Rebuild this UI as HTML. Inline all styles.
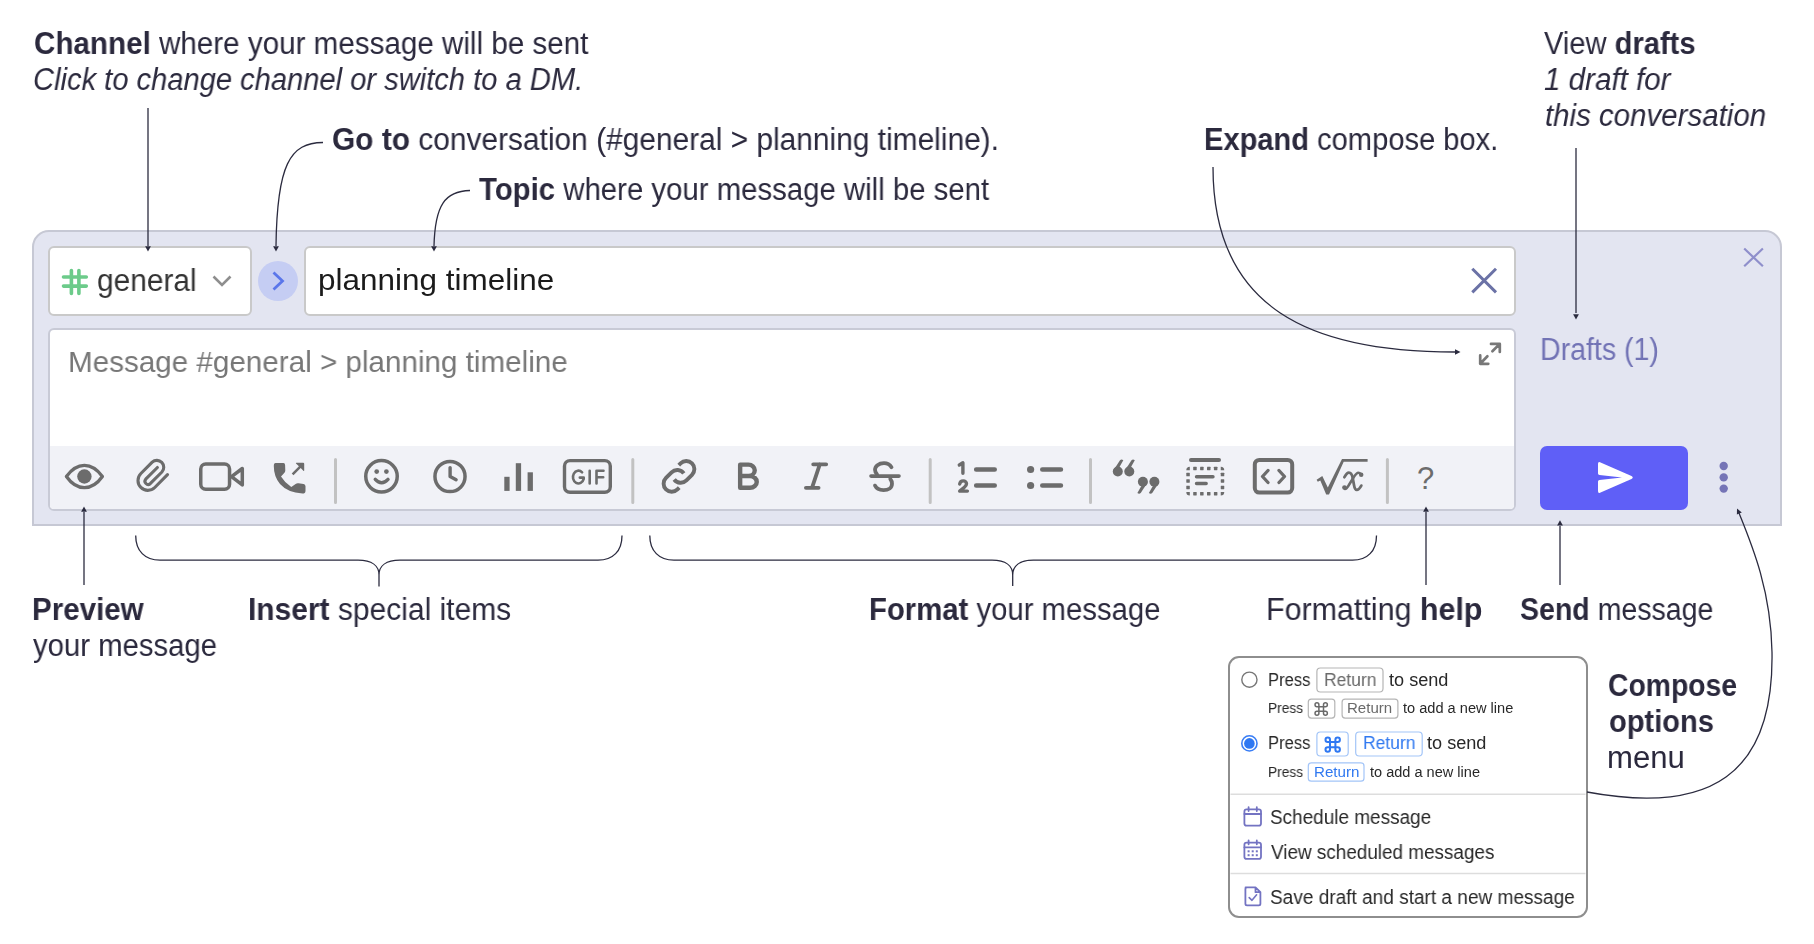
<!DOCTYPE html>
<html><head><meta charset="utf-8"><title>Compose box</title>
<style>
html,body{margin:0;padding:0;background:#fff;}
body{width:1814px;height:944px;position:relative;overflow:hidden;font-family:"Liberation Sans",sans-serif;}
.t{position:absolute;white-space:nowrap;line-height:1;transform-origin:0 0;will-change:transform;}
.t b{font-weight:bold;}
.box{position:absolute;box-sizing:border-box;}
.ov{position:absolute;left:0;top:0;}
</style></head><body>
<div class="box" style="left:32px;top:230px;width:1750px;height:296px;background:#e3e5f1;border:2px solid #c6c8d4;border-radius:17px 17px 0 0;"></div>
<div class="box" style="left:48px;top:246px;width:204px;height:70px;background:#fff;border:2px solid #c9c9c9;border-radius:6px;"></div>
<div class="box" style="left:304px;top:246px;width:1212px;height:70px;background:#fff;border:2px solid #c9c9c9;border-radius:6px;"></div>
<div class="box" style="left:48px;top:328px;width:1468px;height:183px;background:#fff;border:2px solid #c8cad6;border-radius:6px;overflow:hidden;">
  <div style="position:absolute;left:0;right:0;top:116px;bottom:0;background:#f1f2f7;"></div>
</div>
<div class="box" style="left:1228px;top:656px;width:360px;height:262px;background:#fff;border:2px solid #8e8e8e;border-radius:11px;"></div>

<svg class="ov" width="1814" height="944" viewBox="0 0 1814 944">
<g fill="none" stroke="#2b2b3f" stroke-width="1.3">
 <path d="M148 108 V246"/>
 <path d="M323 142.5 C290 142.5 277 165 276 246"/>
 <path d="M470 190.5 C445 191 435 205 434 246"/>
 <path d="M1213 167 C1213 309.6 1311.7 352 1455 352"/>
 <path d="M1576 148 V313"/>
 <path d="M84 585 V512"/>
 <path d="M1426 585 V512"/>
 <path d="M1560 585 V526"/>
 <path d="M1587 792 C1710 815 1774 775 1772 652 C1771 590.5 1752 545 1739 513"/>
 <path d="M135.7 535.4 C135.7 551 145 560.2 160 560.2 H358 C372 560.2 379 566 379 575 V586.4 M379 575 C379 566 386 560.2 400 560.2 H598 C613 560.2 622 551 622 535.4"/>
 <path d="M649.8 535.4 C649.8 551 659 560.2 674 560.2 H992 C1006 560.2 1012.7 566 1012.7 575 V586 M1012.7 575 C1012.7 566 1019.5 560.2 1033.5 560.2 H1352.5 C1367.5 560.2 1376.5 551 1376.5 535.4"/>
</g>
<g fill="#2b2b3f">
 <path d="M145.1 246.3 L150.9 246.3 L148 251.5 Z" fill="#2b2b3f"/>
 <path d="M273.1 246.3 L278.9 246.3 L276 251.5 Z" fill="#2b2b3f"/>
 <path d="M431.1 246.3 L436.9 246.3 L434 251.5 Z" fill="#2b2b3f"/>
 <path d="M1573.1 314.3 L1578.9 314.3 L1576 319.5 Z" fill="#2b2b3f"/>
 <path d="M81.1 511.7 L86.9 511.7 L84 506.5 Z" fill="#2b2b3f"/>
 <path d="M1423.1 511.7 L1428.9 511.7 L1426 506.5 Z" fill="#2b2b3f"/>
 <path d="M1557.1 525.5 L1562.9 525.5 L1560 520.3 Z" fill="#2b2b3f"/>
 <path d="M1460.5 352 L1455 349.2 L1455 354.8 Z"/>
 <path d="M1737 508.5 L1736.9 514.5 L1741.8 512.6 Z"/>
</g>
</svg>

<svg class="ov" width="1814" height="944" viewBox="0 0 1814 944">
 <!-- channel # -->
 <g stroke="#6ccb8a" stroke-width="3.6" stroke-linecap="round" fill="none">
  <path d="M71.4 270.6 V293.4 M78.9 270.6 V293.4 M63.5 277 H86.3 M63.5 286.1 H86.3"/>
 </g>
 <path d="M213.5 276.5 L222 285 L230.5 276.5" fill="none" stroke="#8e8e8e" stroke-width="2.6"/>
 <circle cx="278" cy="281" r="20" fill="#c5cdf3"/>
 <path d="M273.5 272.5 L282.5 281 L273.5 289.5" fill="none" stroke="#5a76ea" stroke-width="2.8"/>
 <!-- topic X -->
 <path d="M1472.3 268.8 L1496 292.4 M1496 268.8 L1472.3 292.4" stroke="#6b72a6" stroke-width="3" fill="none"/>
 <!-- close X -->
 <path d="M1744.2 248.5 L1762.9 266.3 M1762.9 248.5 L1744.2 266.3" stroke="#8f8fcb" stroke-width="2.2" fill="none"/>
 <!-- expand -->
 <g stroke="#787878" stroke-width="2.7" fill="none" stroke-linecap="round" stroke-linejoin="round">
  <path d="M1491 343.9 H1499.8 V352 M1499.8 343.9 L1492.4 351.3"/>
  <path d="M1480.2 355.4 V363.8 H1488.3 M1480.2 363.8 L1487.4 356.3"/>
 </g>
 <!-- toolbar icons -->
 <g fill="none" stroke="#6c6c6c" stroke-width="3.5" stroke-linecap="round" stroke-linejoin="round">
  <path d="M66.4 476.5 C71.5 469.3 77.6 465.3 84.4 465.3 C91.2 465.3 97.3 469.3 102.4 476.5 C97.3 483.7 91.2 487.7 84.4 487.7 C77.6 487.7 71.5 483.7 66.4 476.5 Z" stroke-width="3.3"/>
  <path d="M157.4 467.5 L145.7 479.2 A3.2 3.2 0 0 0 150.2 483.7 L161.9 472 A6.9 6.9 0 0 0 152.2 462.2 L140.9 473.5 A9.85 9.85 0 0 0 154.8 487.5 L167.5 474.7" stroke-width="3.1"/>
  <rect x="200.75" y="463.95" width="28.8" height="25.2" rx="5"/>
  <path d="M231.5 476.7 L242.3 468.5 V484.9 Z"/>
  <circle cx="381.5" cy="476.3" r="15.75"/>
  <path d="M375.3 479.4 Q381.6 486.2 388 479.4" stroke-width="3.5"/>
  <circle cx="450" cy="476.5" r="15.05"/>
  <path d="M450.1 467.6 V476.6 L456.1 479.8" stroke-width="3.4"/>
  <rect x="564.5" y="460.6" width="45.8" height="31.7" rx="5.5" stroke-width="3.4"/>
  <path d="M582.1 472.3 A5.5 6.4 0 1 0 583.7 478.9 V477.6 H579.8 M589.7 470.7 V483.5 M596.5 483.5 V470.7 H603.5 M596.5 477.3 H603.2" stroke-width="2.6"/>
  <path d="M1268 470.5 L1262.5 476.5 L1268 482.5 M1279 470.5 L1284.5 476.5 L1279 482.5" stroke-width="3.3"/>
  <rect x="1254.8" y="459.9" width="37.4" height="32.7" rx="4.5" stroke-width="4"/>
    <!-- link -->
  <g transform="translate(679 476.4) rotate(-45)" stroke-width="3.9" stroke-linecap="butt">
   <path d="M7.8 -8.1 L10.3 -8.1 A8.1 8.1 0 0 1 10.3 8.1 L2.4 8.1 A8.1 8.1 0 0 1 -5.6 -1.2"/>
   <path d="M-7.8 8.1 L-10.3 8.1 A8.1 8.1 0 0 1 -10.3 -8.1 L-2.4 -8.1 A8.1 8.1 0 0 1 5.6 1.2"/>
  </g>
  <!-- B -->
  <path d="M740.15 476.05 V464.65 H748.5 A6.25 5.7 0 0 1 748.5 476.05 H740.15 H750 A6.75 5.85 0 0 1 750 487.75 H740.15 Z" stroke-width="4.4"/>
  <!-- I -->
  <path d="M813.2 464.3 H826.2 M805.9 487.8 H818.6 M819.8 464.3 L812 487.8" stroke-width="3.8"/>
  <!-- S strike -->
  <path d="M891.5 467.2 C889.5 464 886.5 463.2 884 463.2 C878.5 463.2 875 466.2 875 469.8 C875 471.6 875.8 473 877 474.3" stroke-width="3.8"/>
  <path d="M871 476.1 H899" stroke-width="3.6"/>
  <path d="M890.3 479 C891.6 480.6 892 482 892 483.7 C892 487.7 888.5 490.2 883.5 490.2 C879.2 490.2 876.2 488.3 875 485.6" stroke-width="3.8"/>
  <!-- lists -->
  <path d="M976.2 469.5 H994.7 M976.2 485.5 H994.7 M1042.3 469.5 H1060.9 M1042.3 485.5 H1060.9" stroke-width="4.6"/>
  <!-- spoiler -->
  <path d="M1191 459.9 H1219" stroke-width="4"/>
  <path d="M1196.5 476.75 H1213 M1196.5 483.5 H1206.2" stroke-width="3.4"/>
 </g>
 <g fill="#6c6c6c">
  <circle cx="84.4" cy="476.5" r="7.2"/>
  <path d="M275.5 463 L283.5 463 Q285 463 285.1 465 L285.3 470.5 Q285.3 472.2 284 473.3 L281 476.5 Q285 483 291.3 487 L295.6 483.9 Q296.8 483.1 298.5 483.3 L303.6 484 Q305.4 484.4 305.5 486.2 L305.5 491 Q305.3 493.6 302.5 493.6 Q287.5 492.5 280 484 Q273.8 476.5 273.8 466 Q273.8 463 275.5 463 Z"/>
  <path d="M291.7 473.5 L298.9 466.3 L296 463.4 Q295.6 462.8 296.4 462.8 L303.2 462.8 Q304.2 462.8 304.2 463.8 L304.2 470.6 Q304.2 471.4 303.6 470.9 L300.7 468 L293.5 475.2 Z"/>
  <circle cx="376.7" cy="471.6" r="2.35"/>
  <circle cx="386.4" cy="471.6" r="2.35"/>
  <rect x="504.3" y="476.8" width="5.3" height="14.1"/>
  <rect x="515.8" y="463.2" width="5.3" height="27.7"/>
  <rect x="527.6" y="472.3" width="5.3" height="18.6"/>
  <circle cx="1030.6" cy="469.5" r="3.6"/>
  <circle cx="1030.6" cy="485.5" r="3.6"/>
  <circle cx="1117.8" cy="471.5" r="5"/>
  <circle cx="1129.3" cy="471.5" r="5"/>
  <path d="M1113 471 L1120 460.3 Q1121.5 458.8 1123.3 460.3 L1119.5 467 Z"/>
  <path d="M1124.5 471 L1131.5 460.3 Q1133 458.8 1134.8 460.3 L1131 467 Z"/>
  <circle cx="1142.9" cy="481.7" r="5"/>
  <circle cx="1154.4" cy="481.7" r="5"/>
  <path d="M1147.7 482.2 L1140.7 492.9 Q1139.2 494.4 1137.4 492.9 L1141.2 486.2 Z"/>
  <path d="M1159.2 482.2 L1152.2 492.9 Q1150.7 494.4 1148.9 492.9 L1152.7 486.2 Z"/>
  <path d="M1186.30 470.25 A3.5 3.5 0 0 1 1189.80 466.75 V470.25 Z"/><path d="M1186.30 491.95 H1189.80 V495.45 A3.5 3.5 0 0 1 1186.30 491.95 Z"/><rect x="1193.20" y="466.75" width="3.5" height="3.5" rx="0.4"/><rect x="1193.20" y="491.95" width="3.5" height="3.5" rx="0.4"/><rect x="1200.10" y="466.75" width="3.5" height="3.5" rx="0.4"/><rect x="1200.10" y="491.95" width="3.5" height="3.5" rx="0.4"/><rect x="1207.00" y="466.75" width="3.5" height="3.5" rx="0.4"/><rect x="1207.00" y="491.95" width="3.5" height="3.5" rx="0.4"/><rect x="1213.90" y="466.75" width="3.5" height="3.5" rx="0.4"/><rect x="1213.90" y="491.95" width="3.5" height="3.5" rx="0.4"/><path d="M1220.75 466.75 A3.5 3.5 0 0 1 1224.25 470.25 H1220.75 Z"/><path d="M1224.25 491.95 A3.5 3.5 0 0 1 1220.75 495.45 V491.95 Z"/><rect x="1186.30" y="472.85" width="3.5" height="3.5" rx="0.4"/><rect x="1220.75" y="472.85" width="3.5" height="3.5" rx="0.4"/><rect x="1186.30" y="479.25" width="3.5" height="3.5" rx="0.4"/><rect x="1220.75" y="479.25" width="3.5" height="3.5" rx="0.4"/><rect x="1186.30" y="485.65" width="3.5" height="3.5" rx="0.4"/><rect x="1220.75" y="485.65" width="3.5" height="3.5" rx="0.4"/>
  <!-- send arrow white -->
 </g>
 <!-- dividers -->
 <g stroke="#c2c2c2" stroke-width="3" stroke-linecap="round">
  <path d="M335.5 459.5 V502.5 M632.8 459.5 V502.5 M930.2 459.5 V502.5 M1090.5 459.5 V502.5 M1387.4 459.5 V502.5"/>
 </g>
 
 <path d="M959.3 465 L962.9 462.8 V473.3 M959.7 484 C960.1 481.9 961.6 480.9 963.2 480.9 C965.1 480.9 966.5 482.1 966.5 483.8 C966.5 485.3 965.6 486.3 964.4 487.3 L959.7 491.1 H967.4" fill="none" stroke="#6c6c6c" stroke-width="3.4" stroke-linecap="round" stroke-linejoin="round"/>
 <path d="M1316.6 479.7 L1322.3 475.9 L1327.8 487.6 L1342 459 H1367.6 V461.8 H1343.7 L1329 494.6 H1326.2 L1320.3 480.6 L1317.8 481.7 Z" fill="#6c6c6c"/>
 <g fill="none" stroke="#6c6c6c" stroke-linecap="round">
  <path d="M1344.4 477.2 C1345.8 474.6 1347.2 472.6 1348.9 472.6 C1351 472.6 1352 474.5 1352.6 477.5 L1354 485 C1354.5 488 1355.3 489.9 1356.8 489.9 C1358.5 489.9 1360 488 1361.3 485.6" stroke-width="2.8"/>
  <path d="M1361 474.3 C1360.1 473.2 1359.3 472.7 1358.3 472.7 C1356.8 472.7 1355.5 474.5 1353.8 477 L1349.2 484.5 C1347.8 486.8 1346.8 488.9 1345 488.9" stroke-width="2.6"/>
 </g>
 <circle cx="1361.2" cy="474.8" r="2.25" fill="#6c6c6c"/>
 <circle cx="1344.5" cy="487.6" r="2.35" fill="#6c6c6c"/>
 <text x="1417" y="489.3" font-family="Liberation Sans" font-size="31" fill="#6c6c6c">?</text>
 <!-- send button -->
 <rect x="1540" y="446" width="148" height="64" rx="7" fill="#5f5ff7"/>
 <path d="M1600 462.3 L1631.5 476 Q1634 477.5 1631.5 479 L1600 492.7 Q1598 493.5 1598 491 L1598 481.5 Q1598 480.2 1599.5 480 L1622 477.5 L1599.5 475 Q1598 474.8 1598 473.5 L1598 464 Q1598 461.5 1600 462.3 Z" fill="#fff"/>
 <g fill="#7574b6">
  <circle cx="1723.7" cy="466" r="4.2"/>
  <circle cx="1723.7" cy="477.4" r="4.2"/>
  <circle cx="1723.7" cy="488.6" r="4.2"/>
 </g>
</svg>

<svg class="ov" width="1814" height="944" viewBox="0 0 1814 944">
 <circle cx="1249.4" cy="679.7" r="7.6" fill="#fff" stroke="#777" stroke-width="1.4"/>
 <circle cx="1249.4" cy="743.4" r="7.6" fill="#fff" stroke="#3a7ef5" stroke-width="1.6"/>
 <circle cx="1249.4" cy="743.4" r="5.3" fill="#2f78f2"/>
 <g fill="#fff" stroke-width="1.2">
  <rect x="1316.9" y="668" width="66.1" height="24" rx="3.5" stroke="#b5b5b5"/>
  <rect x="1308.3" y="699.1" width="26.5" height="19" rx="3" stroke="#b5b5b5"/>
  <rect x="1342.1" y="699.1" width="55.8" height="19" rx="3" stroke="#b5b5b5"/>
  <rect x="1316.9" y="732" width="31.3" height="24" rx="3.5" stroke="#a3c5f8"/>
  <rect x="1355.7" y="732" width="66.5" height="24" rx="3.5" stroke="#a3c5f8"/>
  <rect x="1308.3" y="762.9" width="55.7" height="18.3" rx="3" stroke="#a3c5f8"/>
 </g>
 <!-- cmd symbols -->
 <path transform="translate(1311.96 699.76) scale(0.77)" fill="none" stroke="#6a6a6a" stroke-width="1.95" d="M9 6.5 V17.5 A2.5 2.5 0 1 1 6.5 15 H17.5 A2.5 2.5 0 1 1 15 17.5 V6.5 A2.5 2.5 0 1 1 17.5 9 H6.5 A2.5 2.5 0 1 1 9 6.5 Z"/>
 <path transform="translate(1321.9 733.8) scale(0.9)" fill="none" stroke="#2f78f2" stroke-width="2.25" d="M9 6.5 V17.5 A2.5 2.5 0 1 1 6.5 15 H17.5 A2.5 2.5 0 1 1 15 17.5 V6.5 A2.5 2.5 0 1 1 17.5 9 H6.5 A2.5 2.5 0 1 1 9 6.5 Z"/>
 <path d="M1230.5 794.2 H1585.5 M1230.5 873.6 H1585.5" stroke="#dddddd" stroke-width="1.5"/>
 <g fill="none" stroke="#7373c2" stroke-width="1.8" stroke-linecap="round" stroke-linejoin="round">
  <rect x="1244.4" y="809.3" width="16.6" height="16.3" rx="2.2"/>
  <path d="M1244.4 814 H1261 M1248.6 807.2 V811 M1256.8 807.2 V811"/>
  <rect x="1244.4" y="842.6" width="16.6" height="16.3" rx="2.2"/>
  <path d="M1244.4 847.3 H1261 M1248.6 840.5 V844.3 M1256.8 840.5 V844.3"/>
  <path d="M1245.5 887.3 H1255.5 L1260.4 892.2 V903.8 Q1260.4 905.4 1258.8 905.4 H1247 Q1245.4 905.4 1245.4 903.8 V888.9 Q1245.4 887.3 1247 887.3 M1255.5 887.3 V892.2 H1260.4"/>
  <path d="M1249.2 897.6 L1252 900.3 L1256.6 894.8" stroke-width="1.6"/>
 </g>
 <g fill="#7373c2">
  <rect x="1247.6" y="850.3" width="2" height="2"/><rect x="1251.7" y="850.3" width="2" height="2"/><rect x="1255.8" y="850.3" width="2" height="2"/>
  <rect x="1247.6" y="854.2" width="2" height="2"/><rect x="1251.7" y="854.2" width="2" height="2"/><rect x="1255.8" y="854.2" width="2" height="2"/>
 </g>
</svg>
<div class="t" style="left:34.25px;top:28.00px;font-size:31px;color:#2b293d;transform:scaleX(0.9548);"><b>Channel</b> where your message will be sent</div>
<div class="t" style="left:33.42px;top:64.00px;font-size:31px;color:#2b293d;transform:scaleX(0.9391);"><i>Click to change channel or switch to a DM.</i></div>
<div class="t" style="left:332.14px;top:124.00px;font-size:31px;color:#2b293d;transform:scaleX(0.9641);"><b>Go to</b> conversation (#general &gt; planning timeline).</div>
<div class="t" style="left:479.00px;top:174.00px;font-size:31px;color:#2b293d;transform:scaleX(0.9471);"><b>Topic</b> where your message will be sent</div>
<div class="t" style="left:1204.02px;top:124.00px;font-size:31px;color:#2b293d;transform:scaleX(0.9382);"><b>Expand</b> compose box.</div>
<div class="t" style="left:1544.30px;top:28.00px;font-size:31px;color:#2b293d;transform:scaleX(0.9388);">View <b>drafts</b></div>
<div class="t" style="left:1544.05px;top:64.00px;font-size:31px;color:#2b293d;transform:scaleX(0.9541);"><i>1 draft for</i></div>
<div class="t" style="left:1544.55px;top:100.00px;font-size:31px;color:#2b293d;transform:scaleX(0.9502);"><i>this conversation</i></div>
<div class="t" style="left:32.09px;top:594.00px;font-size:31px;color:#2b293d;transform:scaleX(0.9530);"><b>Preview</b></div>
<div class="t" style="left:33.00px;top:630.00px;font-size:31px;color:#2b293d;transform:scaleX(0.9448);">your message</div>
<div class="t" style="left:248.47px;top:594.00px;font-size:31px;color:#2b293d;transform:scaleX(0.9665);"><b>Insert</b> special items</div>
<div class="t" style="left:868.51px;top:594.00px;font-size:31px;color:#2b293d;transform:scaleX(0.9449);"><b>Format</b> your message</div>
<div class="t" style="left:1266.34px;top:594.00px;font-size:31px;color:#2b293d;transform:scaleX(0.9816);">Formatting <b>help</b></div>
<div class="t" style="left:1520.38px;top:594.00px;font-size:31px;color:#2b293d;transform:scaleX(0.9197);"><b>Send</b> message</div>
<div class="t" style="left:1608.09px;top:670.00px;font-size:31px;color:#2b293d;transform:scaleX(0.9137);"><b>Compose</b></div>
<div class="t" style="left:1608.56px;top:706.00px;font-size:31px;color:#2b293d;transform:scaleX(0.9373);"><b>options</b></div>
<div class="t" style="left:1607.49px;top:742.00px;font-size:31px;color:#2b293d;transform:scaleX(1.0027);">menu</div>
<div class="t" style="left:96.74px;top:265.00px;font-size:31px;color:#333333;transform:scaleX(0.9634);">general</div>
<div class="t" style="left:317.70px;top:265.00px;font-size:30px;color:#1b1b1b;transform:scaleX(1.0491);">planning timeline</div>
<div class="t" style="left:68.03px;top:347.00px;font-size:30px;color:#777777;transform:scaleX(0.9873);">Message #general &gt; planning timeline</div>
<div class="t" style="left:1539.76px;top:334.00px;font-size:31px;color:#7273b5;transform:scaleX(0.9208);">Drafts (1)</div>
<div class="t" style="left:1268.28px;top:670.60px;font-size:18px;color:#282828;transform:scaleX(0.9222);">Press</div>
<div class="t" style="left:1323.53px;top:670.60px;font-size:18px;color:#6a6a6a;transform:scaleX(0.9712);">Return</div>
<div class="t" style="left:1388.60px;top:670.60px;font-size:18px;color:#282828;transform:scaleX(1.0069);">to send</div>
<div class="t" style="left:1268.02px;top:701.00px;font-size:14px;color:#282828;transform:scaleX(0.9794);">Press</div>
<div class="t" style="left:1347.12px;top:701.00px;font-size:14px;color:#6a6a6a;transform:scaleX(1.0750);">Return</div>
<div class="t" style="left:1403.40px;top:701.00px;font-size:14px;color:#282828;transform:scaleX(1.0419);">to add a new line</div>
<div class="t" style="left:1268.28px;top:733.60px;font-size:18px;color:#282828;transform:scaleX(0.9222);">Press</div>
<div class="t" style="left:1362.53px;top:733.60px;font-size:18px;color:#2f78f0;transform:scaleX(0.9712);">Return</div>
<div class="t" style="left:1427.20px;top:733.60px;font-size:18px;color:#282828;transform:scaleX(1.0069);">to send</div>
<div class="t" style="left:1268.02px;top:764.80px;font-size:14px;color:#282828;transform:scaleX(0.9794);">Press</div>
<div class="t" style="left:1313.52px;top:764.80px;font-size:14px;color:#2f78f0;transform:scaleX(1.0825);">Return</div>
<div class="t" style="left:1369.50px;top:764.80px;font-size:14px;color:#282828;transform:scaleX(1.0390);">to add a new line</div>
<div class="t" style="left:1270.35px;top:807.40px;font-size:20px;color:#282828;transform:scaleX(0.9476);">Schedule message</div>
<div class="t" style="left:1271.00px;top:841.50px;font-size:20px;color:#282828;transform:scaleX(0.9449);">View scheduled messages</div>
<div class="t" style="left:1270.35px;top:887.00px;font-size:20px;color:#282828;transform:scaleX(0.9519);">Save draft and start a new message</div>
</body></html>
